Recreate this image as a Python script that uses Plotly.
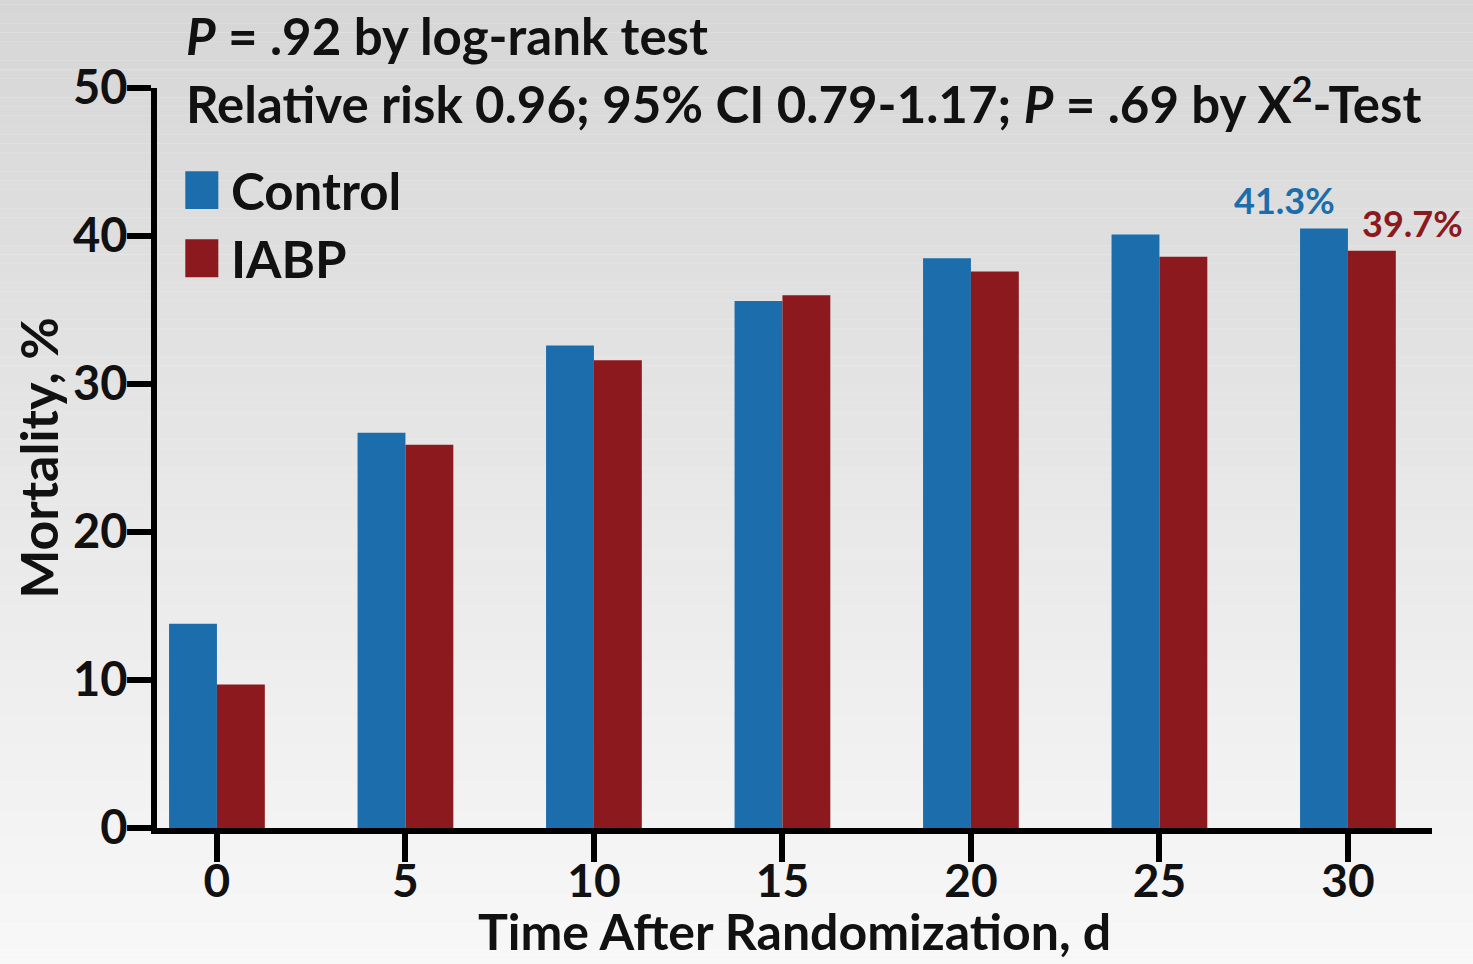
import plotly.graph_objects as go

days = [0, 5, 10, 15, 20, 25, 30]
control = [13.8, 26.7, 32.6, 35.6, 38.5, 40.1, 40.5]
iabp = [9.7, 25.9, 31.6, 36.0, 37.6, 38.6, 39.0]
series_names = ["Control", "IABP"]
series_colors = ["#1b6eab", "#8c191d"]
end_labels = ["41.3%", "39.7%"]
y_ticks = [0, 10, 20, 30, 40, 50]
x_title = "Time After Randomization, d"
y_title = "Mortality, %"

FONT = "Lato"
BW = 1.27

fig = go.Figure()
for name, vals, col, off in [(series_names[0], control, series_colors[0], -BW),
                             (series_names[1], iabp, series_colors[1], 0.0)]:
    fig.add_trace(go.Bar(x=days, y=vals, name=name, marker_color=col,
                         marker_line_width=0, width=BW, offset=off,
                         showlegend=False, hoverinfo="x+y"))

shapes = []
# vertical gradient background
N = 120
top = (212, 212, 212)
bot = (251, 251, 251)
for i in range(N):
    t = i / (N - 1)
    c = tuple(int(round(top[k] + (bot[k] - top[k]) * t)) for k in range(3))
    shapes.append(dict(type="rect", xref="paper", yref="paper", layer="below",
                       x0=-0.2, x1=1.2, y0=1.2 - (i + 1) * 1.5 / N, y1=1.2 - i * 1.5 / N,
                       fillcolor="rgb(%d,%d,%d)" % c, line_width=0))

TXT = dict(family=FONT, size=51, color="#111", weight="bold")
annotations = [
    dict(text="<i>P</i> = .92 by log-rank test", xref="paper", yref="paper",
         x=0.021, y=1.0, yshift=53, xanchor="left", yanchor="middle", showarrow=False,
         font=TXT),
    dict(text="Relative risk 0.96; 95% CI 0.79-1.17; <i>P</i> = .69 by X<sup>2</sup>-Test",
         xref="paper", yref="paper", x=0.021, y=1.0, yshift=-12, xanchor="left",
         yanchor="middle", showarrow=False, font=TXT),
    dict(text=x_title, xref="paper", yref="paper", x=0.5, y=0, yshift=-103,
         xanchor="center", yanchor="middle", showarrow=False,
         font=dict(family=FONT, size=50, color="#111", weight="bold")),
]
# manual legend
leg_y = [43.1, 38.5]
for name, col, yy in zip(series_names, series_colors, leg_y):
    shapes.append(dict(type="rect", xref="paper", yref="y", x0=0.0222, x1=0.0481,
                       y0=yy - 1.28, y1=yy + 1.28, fillcolor=col, line_width=0))
    annotations.append(dict(text=name, xref="paper", yref="y", x=0.0565, y=yy,
                            xanchor="left", yanchor="middle", showarrow=False, font=TXT))
# end labels
annotations.append(dict(text=end_labels[0], x=days[-1] - 1.67, y=control[-1] + 1.9,
                        xanchor="center", yanchor="middle", showarrow=False,
                        font=dict(family=FONT, size=36, color=series_colors[0], weight="bold")))
annotations.append(dict(text=end_labels[1], x=days[-1] + 1.72, y=iabp[-1] + 1.9,
                        xanchor="center", yanchor="middle", showarrow=False,
                        font=dict(family=FONT, size=36, color=series_colors[1], weight="bold")))

fig.update_layout(
    width=1473, height=964,
    margin=dict(l=157, r=41, t=88, b=136, pad=0),
    paper_bgcolor="#f0f0f0", plot_bgcolor="rgba(0,0,0,0)",
    shapes=shapes, annotations=annotations,
    font=dict(family=FONT, color="#111"),
    xaxis=dict(range=[-1.59, 32.23], tickvals=days, ticktext=[str(d) for d in days],
               automargin=False,
               showgrid=False, zeroline=False, showline=True, linecolor="#000", linewidth=6,
               ticks="outside", ticklen=28, tickwidth=6, tickcolor="#000",
               ticklabelstandoff=-20,
               tickfont=dict(family=FONT, size=46, color="#111", weight="bold")),
    yaxis=dict(range=[0, 50], tickvals=y_ticks, showgrid=False, zeroline=False,
               automargin=False,
               showline=True, linecolor="#000", linewidth=6,
               ticks="outside", ticklen=24, tickwidth=6, tickcolor="#000",
               ticklabelstandoff=-10,
               tickfont=dict(family=FONT, size=47, color="#111", weight="bold"),
               title=dict(text=y_title, standoff=0,
                          font=dict(family=FONT, size=52, color="#111", weight="bold"))),
)

fig.write_html("out.html")
